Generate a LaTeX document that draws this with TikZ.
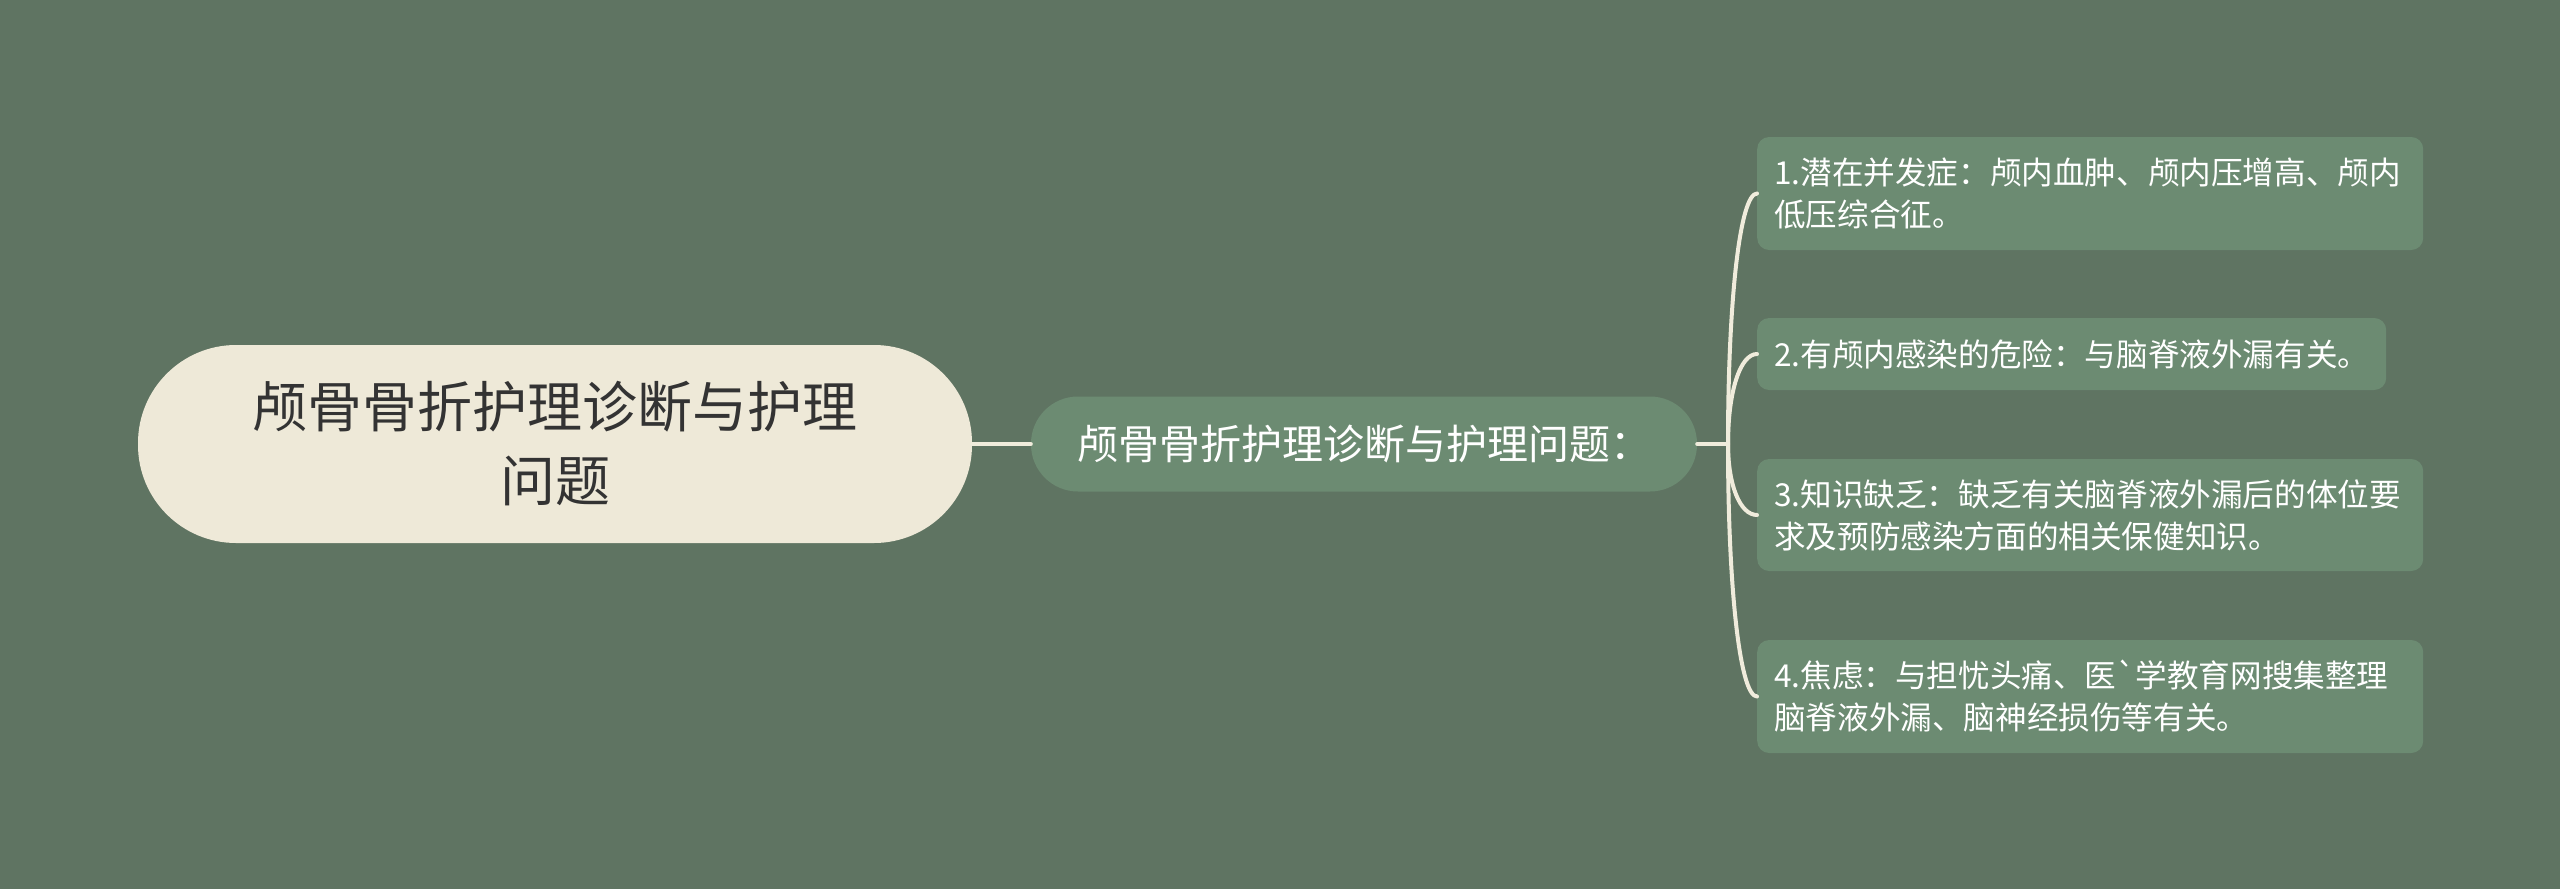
\documentclass[tikz,border=0pt]{standalone}
\usepackage{fontspec}
\newfontfamily\cjk{Noto Sans CJK SC}
\definecolor{bgc}{HTML}{5F7462}
\definecolor{subfill}{HTML}{6C8B72}
\definecolor{rootfill}{HTML}{EEE9D8}
\definecolor{linkc}{HTML}{F0ECDC}
\definecolor{darktext}{HTML}{333333}
\tikzset{
  rootbox/.style={fill=rootfill, rounded corners=98pt, minimum width=834pt, minimum height=198pt,
    inner sep=0pt, align=center, text=darktext, font=\cjk\fontsize{55}{74}\selectfont},
  subbox/.style={fill=subfill, rounded corners=47pt, minimum width=666pt, minimum height=95pt,
    inner sep=0pt, align=center, text=white, font=\cjk\fontsize{41}{48}\selectfont},
  leafbox/.style={fill=subfill, rounded corners=12pt, anchor=west, inner xsep=17pt, inner ysep=0pt,
    align=left, text=white, font=\cjk\fontsize{31.6}{42}\selectfont},
  link/.style={draw=linkc, line width=4pt, line cap=round}
}
\begin{document}
\begin{tikzpicture}[x=1pt,y=-1pt]
\useasboundingbox[fill=bgc] (0,0) rectangle (2560,889);
\node[rootbox] (root) at (555,444) {颅骨骨折护理诊断与护理\\问题};
\node[subbox] (sub) at (1364,444) {颅骨骨折护理诊断与护理问题：};
\node[leafbox, text width=632pt, minimum height=113pt] (c1) at (1757,193.5) {1.潜在并发症：颅内血肿、颅内压增高、颅内\\低压综合征。};
\node[leafbox, text width=595pt, minimum height=72pt] (c2) at (1757,354) {2.有颅内感染的危险：与脑脊液外漏有关。};
\node[leafbox, text width=632pt, minimum height=112pt] (c3) at (1757,515) {3.知识缺乏：缺乏有关脑脊液外漏后的体位要\\求及预防感染方面的相关保健知识。};
\node[leafbox, text width=632pt, minimum height=113pt] (c4) at (1757,696.5) {4.焦虑：与担忧头痛、医`学教育网搜集整理\\脑脊液外漏、脑神经损伤等有关。};
\coordinate (hub) at (1728,444);
\draw[link] (root.east) -- (sub.west);
\draw[link] (sub.east) -- (hub);
\draw[link] (hub) .. controls +(0,-144) and +(-17,0) .. (c1.west);
\draw[link] (hub) .. controls +(0,-52) and +(-17,0) .. (c2.west);
\draw[link] (hub) .. controls +(0,41) and +(-17,0) .. (c3.west);
\draw[link] (hub) .. controls +(0,145) and +(-17,0) .. (c4.west);
\end{tikzpicture}
\end{document}
